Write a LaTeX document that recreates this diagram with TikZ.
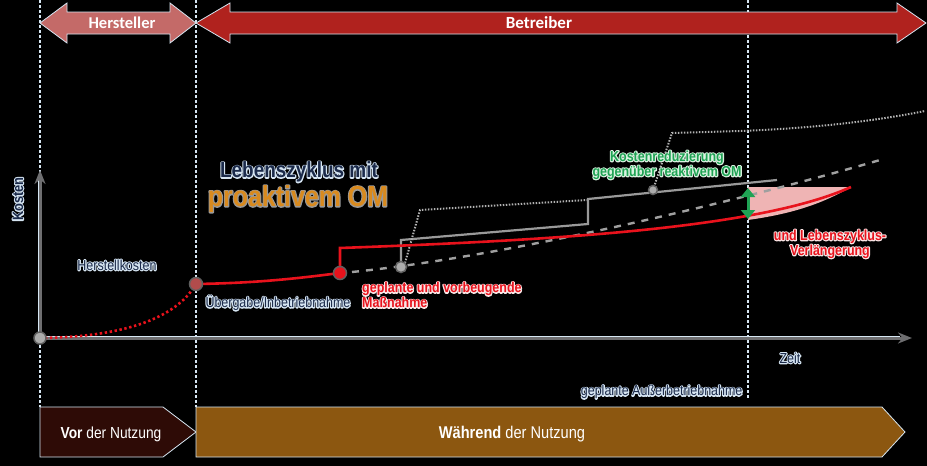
\documentclass[tikz,border=0pt]{standalone}
\usepackage{fontspec}
\setmainfont{Liberation Sans}
\newfontfamily\narrow[FakeStretch=0.86]{Liberation Sans}
\newfontfamily\bandfont{Carlito}
\usetikzlibrary{arrows.meta}

\definecolor{halocol}{HTML}{D6E6F2}
\definecolor{navy}{HTML}{1B2A4A}
\definecolor{axisgray}{HTML}{6E6E70}
\definecolor{lifered}{HTML}{E8121C}
\definecolor{herst}{HTML}{C46A68}
\definecolor{betr}{HTML}{B0221E}
\definecolor{vorbox}{HTML}{2E0B06}
\definecolor{waehrbox}{HTML}{8C5710}
\definecolor{kostgreen}{HTML}{1FA354}
\definecolor{omorange}{HTML}{D98A1E}
\definecolor{gapfill}{HTML}{EFB4B4}

% outlined text: stroked copy behind, filled copy on top
\newcommand{\halo}[2][0.84 0.90 0.95]{\leavevmode\rlap{\special{pdf:literal direct 1 Tr 1 j 2.2 w #1 RG}#2\special{pdf:literal direct 0 Tr 0.4 w}}#2}

\tikzset{
  phase/.style={draw=halocol, line width=0.8pt},
  marker/.style={dash pattern=on 3pt off 2pt, halocol, line width=1.2pt},
  axisline/.style={axisgray, line width=3pt, -{Stealth[length=14pt,width=11pt]}},
  reactive/.style={gray!80, line width=2.2pt},
  dotlead/.style={gray!60, line width=2pt, dash pattern=on 1.5pt off 1.5pt},
  stage/.style={gray!75!black, fill=gray!65, line width=1.5pt},
  lbl/.style={font=\narrow\fontsize{14.5}{17}\selectfont, text=navy},
  redlbl/.style={font=\narrow\bfseries\fontsize{14.5}{15}\selectfont, text=lifered, align=center},
}

\begin{document}
\begin{tikzpicture}[x=1pt,y=-1pt]
\fill[black] (0,0) rectangle (927,466);
\useasboundingbox (0,0) rectangle (927,466);

% phase borders
\draw[marker] (40,0) -- (40,407);
\draw[marker] (196,0) -- (196,407);
\draw[marker] (748,0) -- (748,398);

% band arrows on top
\filldraw[herst, phase] (40,23) -- (67,3) -- (67,12) -- (170,12) -- (170,3) -- (196,23)
  -- (170,43) -- (170,34) -- (67,34) -- (67,43) -- cycle;
\filldraw[betr, phase] (196,23) -- (230,3) -- (230,12) -- (897,12) -- (897,3) -- (926,23)
  -- (897,43) -- (897,34) -- (230,34) -- (230,43) -- cycle;
\node (hersteller) at (122,23) {\bandfont\bfseries\fontsize{16.5}{18}\selectfont\color{white}Hersteller};
\node (betreiber) at (539,23) {\bandfont\bfseries\fontsize{17}{19}\selectfont\color{white}Betreiber};

% bottom phases
\filldraw[vorbox, phase] (40,407) -- (163,407) -- (196,432) -- (163,457) -- (40,457) -- cycle;
\filldraw[waehrbox, phase] (196,407) -- (882,407) -- (905,432) -- (882,457) -- (196,457) -- cycle;
\node (vor) at (111,434) {\narrow\fontsize{16}{18}\selectfont\color{white}\textbf{Vor} der Nutzung};
\node (waehrend) at (512,434) {\narrow\fontsize{17}{19}\selectfont\color{white}\textbf{W\"ahrend} der Nutzung};

% axes
\coordinate (origin) at (40,338);
\coordinate (ytop) at (40,170);
\coordinate (xend) at (912,338);
\draw[halocol, line width=4.4pt] (origin) -- (40,180);
\draw[halocol, line width=4.4pt] (origin) -- (900,338);
\draw[axisline] (origin) -- (ytop);
\draw[axisline] (origin) -- (xend);
\node[lbl, rotate=90, font=\narrow\bfseries\fontsize{15}{17}\selectfont] (kosten) at (18,199) {\halo{Kosten}};
\node[lbl] (zeit) at (790,358) {\halo{Zeit}};

% gap between reactive and proactive
\fill[gapfill] (748,187) -- (851,187) .. controls (820,205) and (790,214) .. (748,220) -- cycle;

% reactive OM
\coordinate (stepA) at (401,267);
\coordinate (stepB) at (588,224);
\coordinate (reacpt) at (653,190);
\draw[gray!75, line width=2.4pt, dash pattern=on 7pt off 7pt]
  (352,272) .. controls (520,255) and (760,195) .. (880,160);
\draw[reactive] (stepA) -- (401,240) -- (stepB) -- (588,199) -- (777,180);
\draw[dotlead] (405,263) -- (420,210) -- (587,200);
\draw[dotlead] (reacpt) -- (672,133) -- (740,131) .. controls (820,128) and (880,120) .. (925,111);

% proactive OM (life cycle)
\coordinate (start) at (196,284);
\coordinate (measure) at (340,273);
\draw[lifered, line width=2.6pt, dash pattern=on 2.4pt off 2.6pt]
  (origin) .. controls (120,337) and (175,320) .. (start);
\draw[lifered, line width=2.6pt] (start) .. controls (260,283) and (300,278) .. (measure)
  -- (340,248) .. controls (560,240) and (760,228) .. (851,187);

% markers
\filldraw[stage] (origin) circle (6);
\filldraw[stage, fill=gray!60!red] (start) circle (6.5);
\filldraw[stage, fill=lifered] (measure) circle (6.5);
\filldraw[stage] (stepA) circle (5.5);
\filldraw[stage] (reacpt) circle (4.5);

% cost reduction
\coordinate (gaptop) at (748,188);
\coordinate (gapbot) at (748,219);
\draw[kostgreen, line width=3pt, {Triangle[length=9pt,width=14pt]}-{Triangle[length=9pt,width=14pt]}] (gaptop) -- (gapbot);

% labels
\node[lbl] (herstellkosten) at (117,265) {\halo{Herstellkosten}};
\node[lbl, anchor=west] (uebergabe) at (202,303) {\halo{\"Ubergabe/Inbetriebnahme}};
\node[redlbl, anchor=north west, align=left, inner sep=0pt] (massnahme) at (362,282)
  {\halo[0.98 0.9 0.9]{geplante und vorbeugende}\\\halo[0.98 0.9 0.9]{Ma\ss{}nahme}};
\node[redlbl] (verlaengerung) at (830,244)
  {\halo[0.98 0.9 0.9]{und Lebenszyklus-}\\\halo[0.98 0.9 0.9]{Verl\"angerung}};
\node[font=\narrow\bfseries\fontsize{14.5}{15}\selectfont, text=kostgreen, align=center] (reduktion) at (667,165)
  {\halo[0.85 0.95 0.88]{Kostenreduzierung}\\\halo[0.85 0.95 0.88]{gegen\"uber reaktivem OM}};
\node[lbl, anchor=east] (ausser) at (746,392) {\halo{geplante Au\ss{}erbetriebnahme}};
\node[font=\narrow\bfseries\fontsize{22}{25}\selectfont, text=navy] (titel) at (299,172) {\halo{Lebenszyklus mit}};
\node[font=\narrow\bfseries\fontsize{29}{32}\selectfont, text=omorange] (proaktiv) at (298,199) {\halo[0.6 0.6 0.6]{proaktivem OM}};
\end{tikzpicture}
\end{document}
